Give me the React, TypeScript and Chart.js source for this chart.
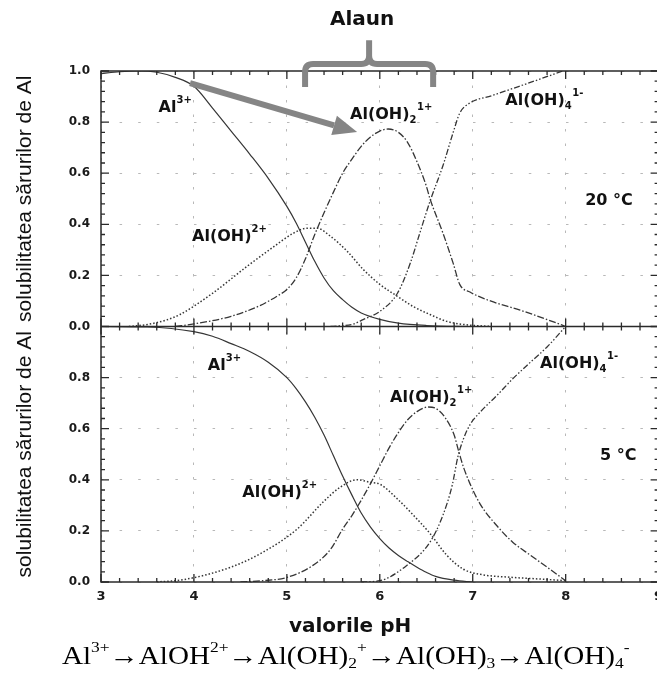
import React, { useEffect, useRef } from 'react';
import { Chart, registerables } from 'chart.js';

Chart.register(...registerables);

// ---------- axes ----------
const X_MIN = 3;
const X_MAX = 9;
const Y_MIN = 0;
const Y_MAX = 1;
const X_STEP = 1;
const Y_STEP = 0.2;

// ---------- 20 °C panel ----------
const pH_Al3_20 = [3.0, 3.2, 3.4, 3.6, 3.8, 4.0, 4.2, 4.4, 4.6, 4.8, 5.0, 5.1, 5.2, 5.3, 5.4, 5.5, 5.6, 5.7, 5.8, 6.0, 6.2, 6.5, 7.0];
const Al3_20 = [0.99, 0.997, 1.0, 0.995, 0.975, 0.94, 0.855, 0.765, 0.675, 0.58, 0.47, 0.405, 0.33, 0.255, 0.19, 0.14, 0.105, 0.075, 0.053, 0.028, 0.013, 0.004, 0];

const pH_AlOH_20 = [3.3, 3.5, 3.7, 3.85, 4.2, 4.57, 4.85, 5.07, 5.22, 5.32, 5.47, 5.65, 5.82, 6.0, 6.19, 6.36, 6.54, 6.72, 6.9, 7.2];
const AlOH_20 = [0.0, 0.008, 0.025, 0.047, 0.13, 0.235, 0.31, 0.365, 0.385, 0.385, 0.353, 0.294, 0.224, 0.165, 0.118, 0.078, 0.047, 0.02, 0.008, 0];

const pH_AlOH2_20 = [3.8, 4.0, 4.4, 4.7, 4.9, 5.0, 5.1, 5.2, 5.3, 5.4, 5.5, 5.6, 5.7, 5.8, 5.9, 6.0, 6.09, 6.2, 6.3, 6.4, 6.5, 6.54, 6.68, 6.79, 6.86, 6.97, 7.19, 7.51, 7.87, 8.0];
const AlOH2_20 = [0, 0.01, 0.04, 0.08, 0.12, 0.145, 0.19, 0.265, 0.36, 0.445, 0.525, 0.6, 0.655, 0.705, 0.742, 0.765, 0.773, 0.76, 0.72, 0.645, 0.55, 0.5, 0.365, 0.247, 0.165, 0.135, 0.1, 0.064, 0.018, 0];

const pH_AlOH4_20 = [5.47, 5.72, 5.82, 6.0, 6.19, 6.33, 6.43, 6.54, 6.68, 6.79, 6.86, 6.97, 7.2, 7.5, 7.97];
const AlOH4_20 = [0, 0.01, 0.027, 0.059, 0.13, 0.25, 0.365, 0.49, 0.63, 0.76, 0.835, 0.875, 0.903, 0.94, 1.0];

// ---------- 5 °C panel ----------
const pH_Al3_5 = [3.0, 3.5, 4.0, 4.2, 4.4, 4.6, 4.8, 5.0, 5.1, 5.2, 5.3, 5.4, 5.5, 5.6, 5.7, 5.8, 5.9, 6.0, 6.1, 6.2, 6.3, 6.4, 6.5, 6.6, 6.8, 7.0];
const Al3_5 = [1.0, 0.998, 0.98, 0.962, 0.933, 0.902, 0.86, 0.8, 0.757, 0.705, 0.645, 0.575, 0.495, 0.415, 0.34, 0.27, 0.215, 0.17, 0.133, 0.104, 0.08, 0.058, 0.038, 0.022, 0.007, 0];

const pH_AlOH_5 = [3.6, 3.9, 4.39, 4.74, 5.11, 5.39, 5.57, 5.75, 5.9, 6.0, 6.19, 6.36, 6.54, 6.72, 6.9, 7.08, 7.43, 7.8, 8.0];
const AlOH_5 = [0, 0.01, 0.057, 0.116, 0.207, 0.313, 0.37, 0.4, 0.39, 0.383, 0.325, 0.262, 0.19, 0.105, 0.05, 0.03, 0.018, 0.01, 0.005];

const pH_AlOH2_5 = [4.5, 4.74, 5.0, 5.28, 5.47, 5.6, 5.7, 5.8, 5.9, 6.0, 6.1, 6.2, 6.3, 6.4, 6.52, 6.6, 6.7, 6.8, 6.85, 6.9, 6.97, 7.08, 7.26, 7.43, 7.62, 7.8, 8.0];
const AlOH2_5 = [0, 0.005, 0.018, 0.065, 0.128, 0.207, 0.26, 0.32, 0.385, 0.455, 0.525, 0.585, 0.635, 0.667, 0.685, 0.68, 0.645, 0.575, 0.51, 0.45, 0.385, 0.305, 0.22, 0.156, 0.105, 0.058, 0.005];

const pH_AlOH4_5 = [5.8, 6.0, 6.29, 6.54, 6.68, 6.78, 6.84, 6.9, 6.97, 7.08, 7.26, 7.43, 7.62, 7.8, 8.0];
const AlOH4_5 = [0, 0.005, 0.065, 0.156, 0.262, 0.38, 0.49, 0.56, 0.615, 0.665, 0.73, 0.795, 0.86, 0.92, 1.0];

// ---------- text ----------
const TITLE = 'Alaun';
const Y_TITLE = 'solubilitatea sărurilor de Al';
const X_TITLE = 'valorile pH';

type Part = [string, 'n' | 'sub' | 'sup'];
const LBL_AL3: Part[] = [['Al', 'n'], ['3+', 'sup']];
const LBL_ALOH: Part[] = [['Al(OH)', 'n'], ['2+', 'sup']];
const LBL_ALOH2: Part[] = [['Al(OH)', 'n'], ['2', 'sub'], ['1+', 'sup']];
const LBL_ALOH4: Part[] = [['Al(OH)', 'n'], ['4', 'sub'], ['1-', 'sup']];

// annotation anchors (pH, value of text baseline)
const labels20 = [
  { x: 3.62, y: 0.839, parts: LBL_AL3 },
  { x: 3.98, y: 0.333, parts: LBL_ALOH },
  { x: 5.68, y: 0.812, parts: LBL_ALOH2 },
  { x: 7.35, y: 0.867, parts: LBL_ALOH4 },
  { x: 8.21, y: 0.475, parts: [['20 °C', 'n']] as Part[] },
];
const labels5 = [
  { x: 4.15, y: 0.83, parts: LBL_AL3 },
  { x: 4.52, y: 0.332, parts: LBL_ALOH },
  { x: 6.11, y: 0.705, parts: LBL_ALOH2 },
  { x: 7.725, y: 0.838, parts: LBL_ALOH4 },
  { x: 8.37, y: 0.477, parts: [['5 °C', 'n']] as Part[] },
];

// bracket & arrow in data units of the upper panel
const BRACKET = { left: 5.196, right: 6.574, mid: 5.885, bar: 1.027, ends: 0.937, spike: 1.12 };
const ARROW = { x0: 3.958, y0: 0.953, x1: 5.756, y1: 0.761 };
const TITLE_POS = { x: 5.81, y: 1.18 };
const X_TITLE_POS = 5.68;

const BOLD = '"DejaVu Sans", Verdana, sans-serif';
const LINE = '#363636';
const GRAY = '#858585';

const pts = (xs: number[], ys: number[]) => xs.map((x, i) => ({ x, y: ys[i] }));

function drawChem(ctx: CanvasRenderingContext2D, parts: Part[], x: number, y: number, size: number) {
  let cx = x;
  ctx.textAlign = 'left';
  ctx.textBaseline = 'alphabetic';
  for (const [t, k] of parts) {
    const s = k === 'n' ? size : Math.round(size * 0.64);
    ctx.font = `bold ${s}px ${BOLD}`;
    const dy = k === 'sup' ? -size * 0.58 : k === 'sub' ? size * 0.26 : 0;
    ctx.fillText(t, cx, y + dy);
    cx += ctx.measureText(t).width + (k === 'n' ? 0 : 0.5);
  }
}

const overlay = {
  id: 'overlay',
  afterDatasetsDraw(chart: any) {
    const ctx: CanvasRenderingContext2D = chart.ctx;
    const x = chart.scales.x;
    const yt = chart.scales.yTop;
    const yb = chart.scales.yBot;
    const L = x.getPixelForValue(X_MIN);
    const R = x.getPixelForValue(X_MAX);
    const T = yt.getPixelForValue(Y_MAX);
    const M = yt.getPixelForValue(Y_MIN);
    const B = yb.getPixelForValue(Y_MIN);
    ctx.save();
    ctx.strokeStyle = '#2a2a2a';
    ctx.lineWidth = 1.5;
    ctx.strokeRect(L, T, R - L, B - T);
    ctx.beginPath();
    ctx.moveTo(L, M);
    ctx.lineTo(R, M);
    ctx.stroke();
    // inward ticks
    ctx.lineWidth = 1.3;
    ctx.beginPath();
    const nx = Math.round((X_MAX - X_MIN) / 0.2);
    for (let i = 0; i <= nx; i++) {
      const px = x.getPixelForValue(X_MIN + i * 0.2);
      const len = i % 5 === 0 ? 8 : 4;
      ctx.moveTo(px, T); ctx.lineTo(px, T + len);
      ctx.moveTo(px, M - len); ctx.lineTo(px, M + len);
      ctx.moveTo(px, B); ctx.lineTo(px, B - len);
    }
    for (const s of [yt, yb]) {
      for (let j = 0; j <= 25; j++) {
        const py = s.getPixelForValue(j * 0.04);
        const len = j % 5 === 0 ? 8 : 4;
        ctx.moveTo(L, py); ctx.lineTo(L + len, py);
        ctx.moveTo(R, py); ctx.lineTo(R - len, py);
      }
    }
    ctx.stroke();
    ctx.restore();
  },
  afterDraw(chart: any) {
    const ctx: CanvasRenderingContext2D = chart.ctx;
    const x = chart.scales.x;
    const yt = chart.scales.yTop;
    const yb = chart.scales.yBot;
    ctx.save();
    ctx.fillStyle = '#111';
    for (const l of labels20) drawChem(ctx, l.parts, x.getPixelForValue(l.x), yt.getPixelForValue(l.y), 16);
    for (const l of labels5) drawChem(ctx, l.parts, x.getPixelForValue(l.x), yb.getPixelForValue(l.y), 16);

    // title
    ctx.font = `bold 20px ${BOLD}`;
    ctx.textAlign = 'center';
    ctx.textBaseline = 'alphabetic';
    ctx.fillText(TITLE, x.getPixelForValue(TITLE_POS.x), yt.getPixelForValue(TITLE_POS.y));
    // x title
    ctx.fillText(X_TITLE, x.getPixelForValue(X_TITLE_POS), yb.getPixelForValue(Y_MIN) + 50);

    // bracket
    const xl = x.getPixelForValue(BRACKET.left);
    const xr = x.getPixelForValue(BRACKET.right);
    const xm = x.getPixelForValue(BRACKET.mid);
    const yH = yt.getPixelForValue(BRACKET.bar);
    const yE = yt.getPixelForValue(BRACKET.ends);
    const yS = yt.getPixelForValue(BRACKET.spike);
    ctx.strokeStyle = GRAY;
    ctx.lineWidth = 6;
    ctx.lineCap = 'butt';
    ctx.lineJoin = 'round';
    ctx.beginPath();
    ctx.moveTo(xl, yE);
    ctx.lineTo(xl, yH + 8);
    ctx.quadraticCurveTo(xl, yH, xl + 8, yH);
    ctx.lineTo(xm - 8, yH);
    ctx.quadraticCurveTo(xm, yH, xm, yH - 8);
    ctx.lineTo(xm, yS);
    ctx.moveTo(xm, yH - 8);
    ctx.quadraticCurveTo(xm, yH, xm + 8, yH);
    ctx.lineTo(xr - 8, yH);
    ctx.quadraticCurveTo(xr, yH, xr, yH + 8);
    ctx.lineTo(xr, yE);
    ctx.stroke();

    // arrow
    const ax0 = x.getPixelForValue(ARROW.x0);
    const ay0 = yt.getPixelForValue(ARROW.y0);
    const ax1 = x.getPixelForValue(ARROW.x1);
    const ay1 = yt.getPixelForValue(ARROW.y1);
    const ang = Math.atan2(ay1 - ay0, ax1 - ax0);
    const head = 24;
    const hw = 10;
    const bx = ax1 - head * Math.cos(ang);
    const by = ay1 - head * Math.sin(ang);
    ctx.beginPath();
    ctx.moveTo(ax0, ay0);
    ctx.lineTo(bx, by);
    ctx.stroke();
    ctx.fillStyle = GRAY;
    ctx.beginPath();
    ctx.moveTo(ax1, ay1);
    ctx.lineTo(bx + hw * Math.sin(ang), by - hw * Math.cos(ang));
    ctx.lineTo(bx - hw * Math.sin(ang), by + hw * Math.cos(ang));
    ctx.closePath();
    ctx.fill();
    ctx.restore();
  },
};

const CANVAS_W = 672;
const CANVAS_H = 640;

export default function App() {
  const ref = useRef<HTMLCanvasElement | null>(null);

  useEffect(() => {
    if (!ref.current) return;
    const mk = (label: string, xs: number[], ys: number[], yAxisID: string, dash: number[], width: number) => ({
      label,
      data: pts(xs, ys),
      yAxisID,
      xAxisID: 'x',
      borderColor: LINE,
      borderWidth: width,
      borderDash: dash,
      pointRadius: 0,
      fill: false,
      cubicInterpolationMode: 'monotone' as const,
    });
    const DOT = [1.5, 2];
    const DASH = [7, 2, 1.5, 2];
    const DASHDOT2 = [6, 2, 1.5, 2, 1.5, 2];

    const yCommon = (hideTop: boolean, weight: number) => ({
      type: 'linear' as const,
      position: 'left' as const,
      stack: 'panels',
      stackWeight: 1,
      weight,
      min: Y_MIN,
      max: Y_MAX,
      ticks: {
        stepSize: Y_STEP,
        padding: 11,
        color: '#1a1a1a',
        font: { family: BOLD, size: 12, weight: 'bold' as const },
        callback: (v: any) => (hideTop && Number(v) > 0.99 ? '' : Number(v).toFixed(1)),
      },
      grid: { color: '#b8b8b8', lineWidth: 1, drawTicks: false },
      border: { display: false, dash: [2.5, 16.1] },
      title: {
        display: true,
        text: Y_TITLE,
        color: '#111',
        font: { family: '"Liberation Sans", Arial, sans-serif', size: 21 },
        padding: { top: 13, bottom: 0 },
      },
      afterFit: (s: any) => { s.width = 101; },
    });

    const chart = new Chart(ref.current, {
      type: 'line',
      data: {
        datasets: [
          mk('Al3+ 20', pH_Al3_20, Al3_20, 'yTop', [], 1.2),
          mk('Al(OH)2+ 20', pH_AlOH_20, AlOH_20, 'yTop', DOT, 1.5),
          mk('Al(OH)2 1+ 20', pH_AlOH2_20, AlOH2_20, 'yTop', DASH, 1.3),
          mk('Al(OH)4 1- 20', pH_AlOH4_20, AlOH4_20, 'yTop', DASHDOT2, 1.3),
          mk('Al3+ 5', pH_Al3_5, Al3_5, 'yBot', [], 1.2),
          mk('Al(OH)2+ 5', pH_AlOH_5, AlOH_5, 'yBot', DOT, 1.5),
          mk('Al(OH)2 1+ 5', pH_AlOH2_5, AlOH2_5, 'yBot', DASH, 1.3),
          mk('Al(OH)4 1- 5', pH_AlOH4_5, AlOH4_5, 'yBot', DASHDOT2, 1.3),
        ],
      },
      options: {
        responsive: false,
        animation: false,
        devicePixelRatio: 1,
        parsing: false as any,
        layout: { padding: { top: 71, right: CANVAS_W - 658.6, bottom: 2, left: 0 } },
        plugins: { legend: { display: false }, tooltip: { enabled: false }, title: { display: false } },
        scales: {
          x: {
            type: 'linear',
            position: 'bottom',
            min: X_MIN,
            max: X_MAX,
            ticks: {
              stepSize: X_STEP,
              padding: 7,
              color: '#1a1a1a',
              font: { family: BOLD, size: 13, weight: 'bold' },
            },
            grid: { color: '#b8b8b8', lineWidth: 1, drawTicks: false },
            border: { display: false, dash: [2.5, 12] },
            afterFit: (s: any) => { s.height = 56; },
          },
          yTop: yCommon(false, 2),
          yBot: yCommon(true, 1),
        } as any,
      },
      plugins: [overlay],
    });
    return () => chart.destroy();
  }, []);

  const supS: React.CSSProperties = { fontSize: '60%', lineHeight: 0, position: 'relative', top: '-0.75em', verticalAlign: 'baseline' };
  const subS: React.CSSProperties = { fontSize: '60%', lineHeight: 0, position: 'relative', top: '0.25em', verticalAlign: 'baseline' };

  return (
    <div style={{ position: 'absolute', left: 0, top: 0, width: 657, height: 674, overflow: 'hidden', background: '#fff' }}>
      <canvas ref={ref} width={CANVAS_W} height={CANVAS_H} style={{ position: 'absolute', left: 0, top: 0, width: CANVAS_W, height: CANVAS_H }} />
      <div
        style={{
          position: 'absolute',
          left: 62,
          top: 641,
          fontFamily: '"Liberation Serif", "Times New Roman", serif',
          fontSize: 26,
          lineHeight: '30px',
          whiteSpace: 'nowrap',
          color: '#000',
          transform: 'scaleX(1.12)',
          transformOrigin: 'left top',
        }}
      >
        Al<span style={supS}>3+</span>→AlOH<span style={supS}>2+</span>→Al(OH)<span style={subS}>2</span><span style={supS}>+</span>→Al(OH)<span style={subS}>3</span>→Al(OH)<span style={subS}>4</span><span style={supS}>-</span>
      </div>
    </div>
  );
}
